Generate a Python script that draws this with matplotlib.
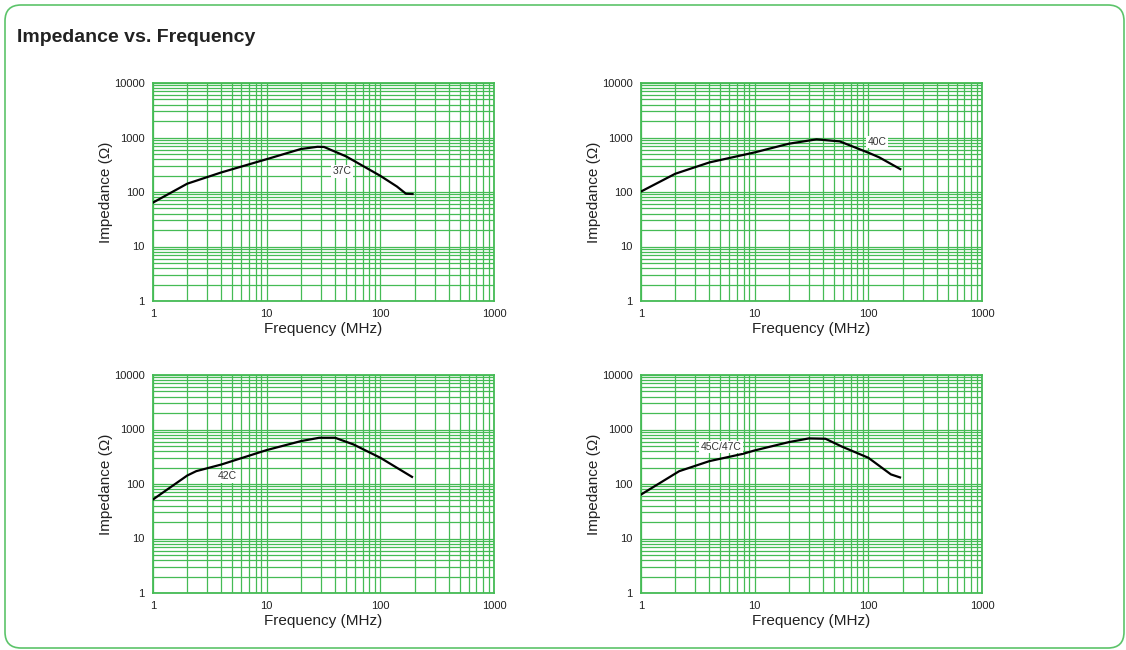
import matplotlib
matplotlib.use('Agg')
import matplotlib.pyplot as plt
from matplotlib.patches import FancyBboxPatch
from matplotlib.ticker import LogLocator, FixedLocator, NullFormatter

plt.rcParams['font.family'] = ['Liberation Sans', 'DejaVu Sans']

# Datos (MHz, Ohm)
f_37c = [1, 2, 4, 10, 20, 28, 32, 50, 100, 140, 168, 192]
z_37c = [64, 142, 229, 400, 615, 675, 670, 450, 198, 126, 93, 92]

f_40c = [1, 2, 4, 10, 20, 35, 56, 102, 125, 191]
z_40c = [102, 216, 349, 533, 769, 925, 849, 518, 431, 263]

f_42c = [1, 2, 2.4, 4, 10, 20, 29, 40, 58, 100, 190]
z_42c = [52, 143, 172, 228, 419, 612, 705, 705, 532, 303, 135]

f_45c = [1, 2.17, 4, 7.9, 10, 20, 30, 42, 59, 100, 158, 190]
z_45c = [64, 172, 263, 358, 413, 587, 686, 676, 482, 303, 150, 132]

series = [
    (f_37c, z_37c, '37C', (46, 238)),
    (f_40c, z_40c, '40C', (120, 826)),
    (f_42c, z_42c, '42C', (4.5, 139)),
    (f_45c, z_45c, '45C/47C', (5.06, 475)),
]

W, H = 1126, 650
fig = plt.figure(figsize=(W / 100, H / 100), dpi=100)

# marco redondeado verde (en pixeles)
fondo = fig.add_axes([0, 0, 1, 1])
fondo.set_xlim(0, W)
fondo.set_ylim(H, 0)
fondo.axis('off')
marco = FancyBboxPatch((5, 5), 1119, 643,
                       boxstyle='round,pad=0,rounding_size=16',
                       fill=False, edgecolor='#5cc46a', linewidth=1.2)
fondo.add_patch(marco)

fig.text(17 / W, 1 - 38 / H, 'Impedance vs. Frequency', fontsize=14,
         fontweight='bold', color='#222222', va='center', ha='left')

verde = '#45bb55'

posiciones = [
    (153, 83), (641, 83),
    (153, 375), (641, 375),
]

for (px, py), (f, z, nombre, (lx, ly)) in zip(posiciones, series):
    ax = fig.add_axes([px / W, 1 - (py + 218) / H, 341 / W, 218 / H])
    ax.set_xscale('log')
    ax.set_yscale('log')
    ax.set_xlim(1, 1000)
    ax.set_ylim(1, 10000)

    ax.xaxis.set_major_locator(FixedLocator([1, 10, 100, 1000]))
    ax.yaxis.set_major_locator(FixedLocator([1, 10, 100, 1000, 10000]))
    ax.xaxis.set_minor_locator(LogLocator(base=10, subs=range(2, 10)))
    ax.yaxis.set_minor_locator(LogLocator(base=10, subs=range(2, 10)))
    ax.xaxis.set_minor_formatter(NullFormatter())
    ax.yaxis.set_minor_formatter(NullFormatter())
    ax.set_xticklabels(['1', '10', '100', '1000'])
    ax.set_yticklabels(['1', '10', '100', '1000', '10000'])

    ax.tick_params(which='both', length=0, labelsize=8, pad=6, labelcolor='#222222')
    ax.grid(True, which='both', color=verde, linewidth=0.9)
    for s in ax.spines.values():
        s.set_color(verde)
        s.set_linewidth(1.3)

    ax.plot(f, z, color='black', linewidth=1.6, zorder=3)
    ax.text(lx, ly, nombre, fontsize=7.5, color='#333333', ha='center', va='center',
            bbox=dict(facecolor='white', edgecolor='none', pad=1), zorder=4)

    ax.set_xlabel('Frequency (MHz)', fontsize=11, labelpad=2, color='#222222')
    ax.set_ylabel('Impedance (Ω)', fontsize=11, labelpad=1, color='#222222')

fig.savefig('out.png', dpi=100)
